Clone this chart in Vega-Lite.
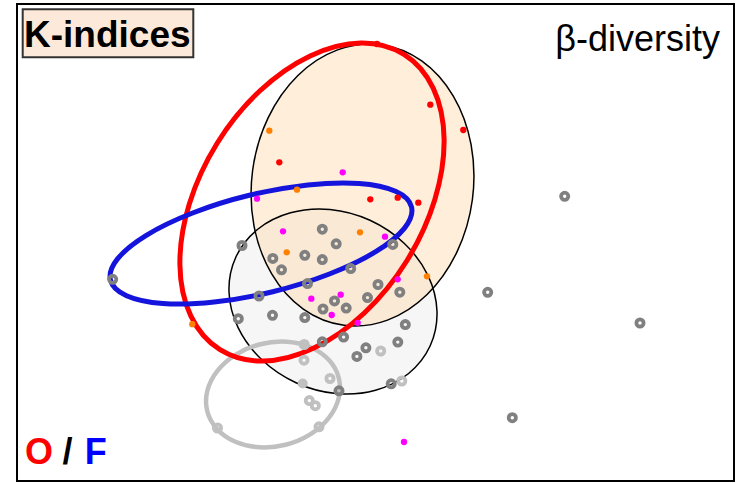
{
  "$schema": "https://vega.github.io/schema/vega-lite/v6.json",
  "width": 742,
  "height": 483,
  "autosize": {"type": "fit", "contains": "padding"},
  "padding": {"left": 17, "top": 4, "right": 8, "bottom": 2},
  "background": "white",
  "config": {"view": {"stroke": "black", "strokeWidth": 2}},
  "datasets": {
    "ellipses": [
      {"e": "grey", "i": 0, "x": 41.32, "y": 13.52}, {"e": "grey", "i": 1, "x": 39.16, "y": 10.75}, {"e": "grey", "i": 2, "x": 35.85, "y": 9.08}, {"e": "grey", "i": 3, "x": 31.9, "y": 8.75},
      {"e": "grey", "i": 4, "x": 27.9, "y": 9.83}, {"e": "grey", "i": 5, "x": 24.46, "y": 12.15}, {"e": "grey", "i": 6, "x": 22.11, "y": 15.34}, {"e": "grey", "i": 7, "x": 21.2, "y": 18.93},
      {"e": "grey", "i": 8, "x": 21.88, "y": 22.38}, {"e": "grey", "i": 9, "x": 24.04, "y": 25.15}, {"e": "grey", "i": 10, "x": 27.35, "y": 26.82}, {"e": "grey", "i": 11, "x": 31.3, "y": 27.15},
      {"e": "grey", "i": 12, "x": 35.3, "y": 26.07}, {"e": "grey", "i": 13, "x": 38.74, "y": 23.75}, {"e": "grey", "i": 14, "x": 41.09, "y": 20.56}, {"e": "grey", "i": 15, "x": 42.0, "y": 16.97},
      {"e": "peach", "i": 0, "x": 36.4, "y": 43.63}, {"e": "peach", "i": 1, "x": 40.47, "y": 42.01}, {"e": "peach", "i": 2, "x": 43.63, "y": 38.49}, {"e": "peach", "i": 3, "x": 45.41, "y": 33.63},
      {"e": "peach", "i": 4, "x": 45.54, "y": 28.15}, {"e": "peach", "i": 5, "x": 43.99, "y": 22.89}, {"e": "peach", "i": 6, "x": 41.01, "y": 18.65}, {"e": "peach", "i": 7, "x": 37.05, "y": 16.09},
      {"e": "peach", "i": 8, "x": 32.7, "y": 15.57}, {"e": "peach", "i": 9, "x": 28.63, "y": 17.19}, {"e": "peach", "i": 10, "x": 25.47, "y": 20.71}, {"e": "peach", "i": 11, "x": 23.69, "y": 25.57},
      {"e": "peach", "i": 12, "x": 23.56, "y": 31.05}, {"e": "peach", "i": 13, "x": 25.11, "y": 36.31}, {"e": "peach", "i": 14, "x": 28.09, "y": 40.55}, {"e": "peach", "i": 15, "x": 32.05, "y": 43.11},
      {"e": "light", "i": 0, "x": 32.18, "y": 10.3}, {"e": "light", "i": 1, "x": 32.16, "y": 8.25}, {"e": "light", "i": 2, "x": 31.14, "y": 6.26}, {"e": "light", "i": 3, "x": 29.28, "y": 4.63},
      {"e": "light", "i": 4, "x": 26.86, "y": 3.62}, {"e": "light", "i": 5, "x": 24.24, "y": 3.37}, {"e": "light", "i": 6, "x": 21.84, "y": 3.92}, {"e": "light", "i": 7, "x": 20.0, "y": 5.21},
      {"e": "light", "i": 8, "x": 19.02, "y": 7.0}, {"e": "light", "i": 9, "x": 19.04, "y": 9.05}, {"e": "light", "i": 10, "x": 20.06, "y": 11.04}, {"e": "light", "i": 11, "x": 21.92, "y": 12.67},
      {"e": "light", "i": 12, "x": 24.34, "y": 13.68}, {"e": "light", "i": 13, "x": 26.96, "y": 13.93}, {"e": "light", "i": 14, "x": 29.36, "y": 13.38}, {"e": "light", "i": 15, "x": 31.2, "y": 12.09},
      {"e": "red", "i": 0, "x": 38.7, "y": 42.67}, {"e": "red", "i": 1, "x": 41.62, "y": 39.29}, {"e": "red", "i": 2, "x": 42.71, "y": 34.17}, {"e": "red", "i": 3, "x": 41.77, "y": 28.1},
      {"e": "red", "i": 4, "x": 38.97, "y": 22.0}, {"e": "red", "i": 5, "x": 34.73, "y": 16.8}, {"e": "red", "i": 6, "x": 29.69, "y": 13.29}, {"e": "red", "i": 7, "x": 24.62, "y": 11.99},
      {"e": "red", "i": 8, "x": 20.3, "y": 13.13}, {"e": "red", "i": 9, "x": 17.38, "y": 16.51}, {"e": "red", "i": 10, "x": 16.29, "y": 21.63}, {"e": "red", "i": 11, "x": 17.23, "y": 27.7},
      {"e": "red", "i": 12, "x": 20.03, "y": 33.8}, {"e": "red", "i": 13, "x": 24.27, "y": 39.0}, {"e": "red", "i": 14, "x": 29.31, "y": 42.51}, {"e": "red", "i": 15, "x": 34.38, "y": 43.81},
      {"e": "blue", "i": 0, "x": 39.45, "y": 27.41}, {"e": "blue", "i": 1, "x": 38.75, "y": 25.29}, {"e": "blue", "i": 2, "x": 35.87, "y": 22.93}, {"e": "blue", "i": 3, "x": 31.24, "y": 20.7},
      {"e": "blue", "i": 4, "x": 25.57, "y": 18.93}, {"e": "blue", "i": 5, "x": 19.72, "y": 17.9}, {"e": "blue", "i": 6, "x": 14.59, "y": 17.75}, {"e": "blue", "i": 7, "x": 10.95, "y": 18.53},
      {"e": "blue", "i": 8, "x": 9.35, "y": 20.09}, {"e": "blue", "i": 9, "x": 10.05, "y": 22.21}, {"e": "blue", "i": 10, "x": 12.93, "y": 24.57}, {"e": "blue", "i": 11, "x": 17.56, "y": 26.8},
      {"e": "blue", "i": 12, "x": 23.23, "y": 28.57}, {"e": "blue", "i": 13, "x": 29.08, "y": 29.6}, {"e": "blue", "i": 14, "x": 34.21, "y": 29.75}, {"e": "blue", "i": 15, "x": 37.85, "y": 28.97}
    ],
    "points": [
      {"x": 36.0, "y": 43.7, "g": "R", "t": "dot"}, {"x": 41.33, "y": 37.63, "g": "R", "t": "dot"}, {"x": 44.63, "y": 35.1, "g": "R", "t": "dot"}, {"x": 26.23, "y": 31.87, "g": "R", "t": "dot"},
      {"x": 35.33, "y": 28.17, "g": "R", "t": "dot"}, {"x": 38.07, "y": 28.33, "g": "R", "t": "dot"}, {"x": 40.13, "y": 27.83, "g": "R", "t": "dot"},
      {"x": 25.23, "y": 35.03, "g": "Or", "t": "dot"}, {"x": 28.0, "y": 29.13, "g": "Or", "t": "dot"}, {"x": 26.97, "y": 22.87, "g": "Or", "t": "dot"}, {"x": 34.3, "y": 24.87, "g": "Or", "t": "dot"},
      {"x": 41.0, "y": 20.47, "g": "Or", "t": "dot"}, {"x": 17.53, "y": 15.68, "g": "Or", "t": "dot"},
      {"x": 32.57, "y": 30.87, "g": "M", "t": "dot"}, {"x": 24.0, "y": 28.23, "g": "M", "t": "dot"}, {"x": 26.6, "y": 24.97, "g": "M", "t": "dot"}, {"x": 36.8, "y": 24.43, "g": "M", "t": "dot"},
      {"x": 38.07, "y": 20.17, "g": "M", "t": "dot"}, {"x": 29.43, "y": 18.23, "g": "M", "t": "dot"}, {"x": 32.37, "y": 18.63, "g": "M", "t": "dot"}, {"x": 31.47, "y": 16.6, "g": "M", "t": "dot"},
      {"x": 34.07, "y": 15.82, "g": "M", "t": "dot"}, {"x": 38.7, "y": 3.9, "g": "M", "t": "dot"},
      {"x": 30.53, "y": 25.18, "g": "G", "t": "ring"}, {"x": 22.5, "y": 23.55, "g": "G", "t": "ring"}, {"x": 31.92, "y": 23.72, "g": "G", "t": "ring"}, {"x": 37.58, "y": 23.66, "g": "G", "t": "ring"},
      {"x": 25.58, "y": 22.26, "g": "G", "t": "ring"}, {"x": 28.78, "y": 22.57, "g": "G", "t": "ring"}, {"x": 30.53, "y": 22.14, "g": "G", "t": "ring"}, {"x": 26.45, "y": 21.12, "g": "G", "t": "ring"},
      {"x": 33.37, "y": 21.24, "g": "G", "t": "ring"}, {"x": 36.1, "y": 19.65, "g": "G", "t": "ring"}, {"x": 29.05, "y": 19.74, "g": "G", "t": "ring"}, {"x": 24.2, "y": 18.5, "g": "G", "t": "ring"},
      {"x": 38.28, "y": 18.88, "g": "G", "t": "ring"}, {"x": 31.75, "y": 18.01, "g": "G", "t": "ring"}, {"x": 35.05, "y": 18.34, "g": "G", "t": "ring"}, {"x": 30.6, "y": 17.2, "g": "G", "t": "ring"},
      {"x": 32.92, "y": 17.29, "g": "G", "t": "ring"}, {"x": 25.55, "y": 16.57, "g": "G", "t": "ring"}, {"x": 28.78, "y": 16.34, "g": "G", "t": "ring"}, {"x": 22.13, "y": 16.23, "g": "G", "t": "ring"},
      {"x": 38.83, "y": 15.64, "g": "G", "t": "ring"}, {"x": 32.66, "y": 14.39, "g": "G", "t": "ring"}, {"x": 30.53, "y": 13.92, "g": "G", "t": "ring"}, {"x": 38.08, "y": 13.89, "g": "G", "t": "ring"},
      {"x": 34.89, "y": 13.32, "g": "G", "t": "ring"}, {"x": 33.99, "y": 12.46, "g": "G", "t": "ring"}, {"x": 32.2, "y": 9.02, "g": "G", "t": "ring"}, {"x": 37.42, "y": 9.72, "g": "G", "t": "ring"},
      {"x": 9.57, "y": 20.17, "g": "G", "t": "ring"}, {"x": 47.07, "y": 18.87, "g": "G", "t": "ring"}, {"x": 62.3, "y": 15.8, "g": "G", "t": "ring"}, {"x": 49.53, "y": 6.33, "g": "G", "t": "ring"},
      {"x": 54.77, "y": 28.47, "g": "G", "t": "ring"},
      {"x": 28.72, "y": 13.65, "g": "LG", "t": "ring"}, {"x": 28.7, "y": 12.08, "g": "LG", "t": "ring"}, {"x": 31.3, "y": 10.25, "g": "LG", "t": "ring"}, {"x": 36.37, "y": 13.0, "g": "LG", "t": "ring"},
      {"x": 38.48, "y": 10.0, "g": "LG", "t": "ring"}, {"x": 29.23, "y": 8.04, "g": "LG", "t": "ring"}, {"x": 29.83, "y": 7.53, "g": "LG", "t": "ring"}, {"x": 20.05, "y": 5.3, "g": "LG", "t": "ring"},
      {"x": 30.2, "y": 5.42, "g": "LG", "t": "ring"},
      {"x": 28.57, "y": 9.75, "g": "LG", "t": "disc"}
    ],
    "box": [{"x": 0.57, "x2": 17.63, "y": 42.37, "y2": 47.17}],
    "labels": [
      {"x": 0.7, "y": 43.37, "label": "K-indices", "k": "title"},
      {"x": 70.3, "y": 43.03, "label": "β-diversity", "k": "beta"},
      {"x": 0.8, "y": 1.73, "label": "O", "k": "O"},
      {"x": 4.55, "y": 1.73, "label": "/", "k": "slash"},
      {"x": 6.77, "y": 1.73, "label": "F", "k": "F"}
    ]
  },
  "layer": [
    {
      "data": {"name": "ellipses"},
      "transform": [{"filter": "datum.e === 'grey'"}],
      "mark": {"type": "line", "interpolate": "cardinal-closed", "fill": "#e4e4e4", "fillOpacity": 0.32, "strokeOpacity": 0},
      "encoding": {
        "x": {"field": "x", "type": "quantitative", "scale": {"domain": [0, 71.7], "nice": false, "zero": false}, "axis": null},
        "y": {"field": "y", "type": "quantitative", "scale": {"domain": [0, 47.7], "nice": false, "zero": false}, "axis": null},
        "order": {"field": "i", "type": "quantitative"}
      }
    },
    {
      "data": {"name": "ellipses"},
      "transform": [{"filter": "datum.e === 'peach'"}],
      "mark": {"type": "line", "interpolate": "cardinal-closed", "fill": "#fcd9ae", "fillOpacity": 0.45, "strokeOpacity": 0},
      "encoding": {
        "x": {"field": "x", "type": "quantitative"},
        "y": {"field": "y", "type": "quantitative"},
        "order": {"field": "i", "type": "quantitative"}
      }
    },
    {
      "data": {"name": "ellipses"},
      "transform": [{"filter": "datum.e === 'grey' || datum.e === 'peach'"}],
      "mark": {"type": "line", "interpolate": "cardinal-closed", "stroke": "black", "strokeWidth": 1.5},
      "encoding": {
        "x": {"field": "x", "type": "quantitative"},
        "y": {"field": "y", "type": "quantitative"},
        "detail": {"field": "e", "type": "nominal"},
        "order": {"field": "i", "type": "quantitative"}
      }
    },
    {
      "data": {"name": "ellipses"},
      "transform": [{"filter": "datum.e === 'light'"}],
      "mark": {"type": "line", "interpolate": "cardinal-closed", "stroke": "#c0c0c0", "strokeWidth": 4.5},
      "encoding": {
        "x": {"field": "x", "type": "quantitative"},
        "y": {"field": "y", "type": "quantitative"},
        "order": {"field": "i", "type": "quantitative"}
      }
    },
    {
      "data": {"name": "ellipses"},
      "transform": [{"filter": "datum.e === 'red'"}],
      "mark": {"type": "line", "interpolate": "cardinal-closed", "stroke": "#ff0000", "strokeWidth": 5},
      "encoding": {
        "x": {"field": "x", "type": "quantitative"},
        "y": {"field": "y", "type": "quantitative"},
        "order": {"field": "i", "type": "quantitative"}
      }
    },
    {
      "data": {"name": "ellipses"},
      "transform": [{"filter": "datum.e === 'blue'"}],
      "mark": {"type": "line", "interpolate": "cardinal-closed", "stroke": "#1414dc", "strokeWidth": 5},
      "encoding": {
        "x": {"field": "x", "type": "quantitative"},
        "y": {"field": "y", "type": "quantitative"},
        "order": {"field": "i", "type": "quantitative"}
      }
    },
    {
      "data": {"name": "points"},
      "transform": [{"filter": "datum.t === 'disc'"}],
      "mark": {"type": "circle", "size": 100, "opacity": 1},
      "encoding": {
        "x": {"field": "x", "type": "quantitative"},
        "y": {"field": "y", "type": "quantitative"},
        "color": {"field": "g", "type": "nominal", "scale": {"domain": ["R", "Or", "M", "G", "LG"], "range": ["#ff0000", "#ff8000", "#ff00ff", "#808080", "#c0c0c0"]}, "legend": null}
      }
    },
    {
      "data": {"name": "points"},
      "transform": [{"filter": "datum.t === 'ring'"}],
      "mark": {"type": "point", "shape": "circle", "filled": false, "size": 52, "strokeWidth": 3.8, "opacity": 1},
      "encoding": {
        "x": {"field": "x", "type": "quantitative"},
        "y": {"field": "y", "type": "quantitative"},
        "color": {"field": "g", "type": "nominal", "legend": null}
      }
    },
    {
      "data": {"name": "points"},
      "transform": [{"filter": "datum.t === 'dot'"}],
      "mark": {"type": "circle", "size": 40, "opacity": 1},
      "encoding": {
        "x": {"field": "x", "type": "quantitative"},
        "y": {"field": "y", "type": "quantitative"},
        "color": {"field": "g", "type": "nominal", "legend": null}
      }
    },
    {
      "data": {"name": "box"},
      "mark": {"type": "rect", "fill": "#fde9d9", "stroke": "#333333", "strokeWidth": 2},
      "encoding": {
        "x": {"field": "x", "type": "quantitative"},
        "x2": {"field": "x2"},
        "y": {"field": "y", "type": "quantitative"},
        "y2": {"field": "y2"}
      }
    },
    {
      "data": {"name": "labels"},
      "transform": [{"filter": "datum.k === 'title'"}],
      "mark": {"type": "text", "font": "Liberation Sans", "fontWeight": "bold", "fontSize": 37, "align": "left", "baseline": "alphabetic", "color": "black"},
      "encoding": {
        "x": {"field": "x", "type": "quantitative"},
        "y": {"field": "y", "type": "quantitative"},
        "text": {"field": "label"}
      }
    },
    {
      "data": {"name": "labels"},
      "transform": [{"filter": "datum.k === 'beta'"}],
      "mark": {"type": "text", "font": "Liberation Sans", "fontSize": 36, "align": "right", "baseline": "alphabetic", "color": "black"},
      "encoding": {
        "x": {"field": "x", "type": "quantitative"},
        "y": {"field": "y", "type": "quantitative"},
        "text": {"field": "label"}
      }
    },
    {
      "data": {"name": "labels"},
      "transform": [{"filter": "datum.k === 'O' || datum.k === 'slash' || datum.k === 'F'"}],
      "mark": {"type": "text", "font": "Liberation Sans", "fontWeight": "bold", "fontSize": 36, "align": "left", "baseline": "alphabetic"},
      "encoding": {
        "x": {"field": "x", "type": "quantitative"},
        "y": {"field": "y", "type": "quantitative"},
        "text": {"field": "label"},
        "fill": {"field": "k", "type": "nominal", "scale": {"domain": ["O", "slash", "F"], "range": ["#ff0000", "#000000", "#0000ff"]}, "legend": null}
      }
    }
  ]
}
